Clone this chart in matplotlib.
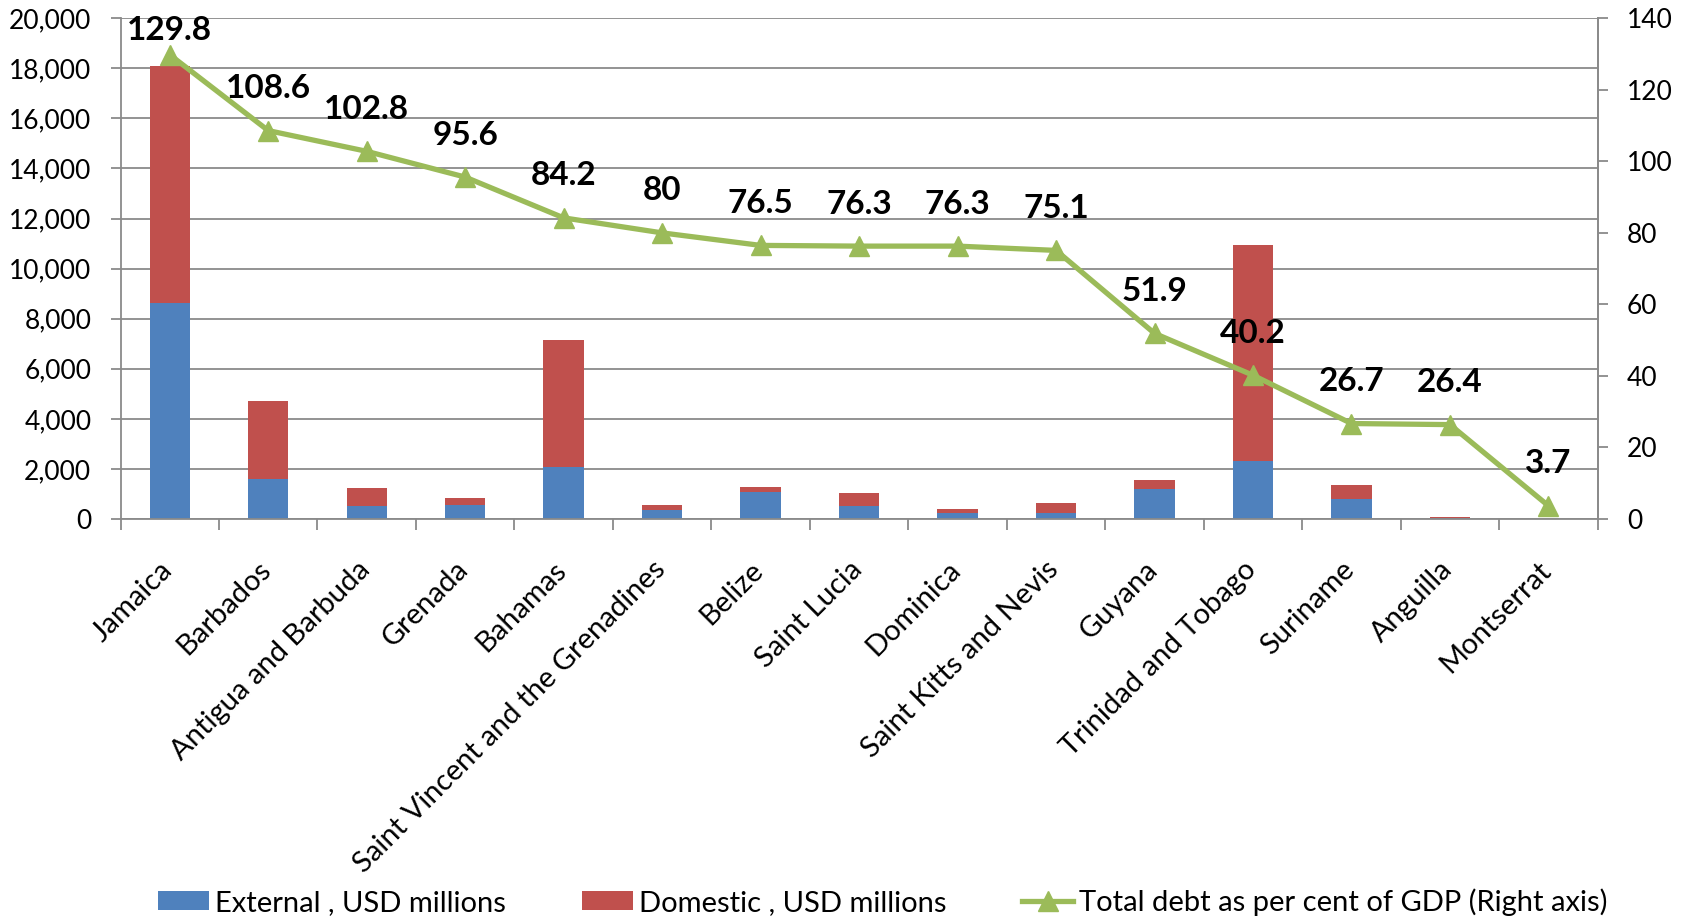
import matplotlib
matplotlib.use("Agg")
import matplotlib.pyplot as plt
import numpy as np
from matplotlib.ticker import FuncFormatter, FixedLocator, NullFormatter

plt.rcParams["font.family"] = ["Lato", "DejaVu Sans"]

countries = ["Jamaica", "Barbados", "Antigua and Barbuda", "Grenada", "Bahamas",
             "Saint Vincent and the Grenadines", "Belize", "Saint Lucia", "Dominica",
             "Saint Kitts and Nevis", "Guyana", "Trinidad and Tobago", "Suriname",
             "Anguilla", "Montserrat"]
# USD millions
external = [8630, 1610, 530, 570, 2090, 370, 1090, 510, 235, 235, 1200, 2330, 800, 25, 0]
domestic = [9470, 3100, 690, 270, 5070, 200, 190, 540, 150, 390, 360, 8620, 555, 45, 0]
# total debt, % of GDP
gdp_pct = [129.8, 108.6, 102.8, 95.6, 84.2, 80, 76.5, 76.3, 76.3, 75.1, 51.9, 40.2, 26.7, 26.4, 3.7]
gdp_lbl = ["129.8", "108.6", "102.8", "95.6", "84.2", "80", "76.5", "76.3", "76.3",
           "75.1", "51.9", "40.2", "26.7", "26.4", "3.7"]

BLUE = "#4F81BD"
RED = "#C0504D"
GREEN = "#9BBB59"
GRID = "#8A8A8A"

fig = plt.figure(figsize=(16.88, 9.18), dpi=100)
ax = fig.add_axes([0.0714, 0.4346, 0.8751, 0.5455])
x = np.arange(len(countries))

ax.bar(x, external, 0.41, color=BLUE, label="External , USD millions", zorder=2)
ax.bar(x, domestic, 0.41, bottom=external, color=RED, label="Domestic , USD millions", zorder=2)
ax.set_xlim(-0.5, len(countries) - 0.5)
ax.set_ylim(0, 20000)
ax.set_yticks(np.arange(0, 20001, 2000))
ax.yaxis.set_major_formatter(FuncFormatter(lambda v, p: f"{int(v):,}"))
ax.grid(axis="y", color=GRID, lw=1.3, zorder=0)
ax.set_axisbelow(True)

# category names drawn as rotated text under each bar; tick marks sit at boundaries
ax.set_xticks(x)
ax.set_xticklabels([])
ax.tick_params(axis="x", which="major", length=0)
for xi, name in zip(x, countries):
    ax.annotate(name, (xi, 0), xycoords=("data", "axes fraction"),
                xytext=(-7.5, -27), textcoords="offset points",
                rotation=45, ha="right", va="top", rotation_mode="anchor",
                fontsize=21, annotation_clip=False)
ax.xaxis.set_minor_locator(FixedLocator(np.arange(-0.5, len(countries), 1.0)))
ax.xaxis.set_minor_formatter(NullFormatter())
ax.tick_params(axis="x", which="minor", length=8, width=1.3, color=GRID)
ax.tick_params(axis="y", length=7, width=1.3, color=GRID, pad=14, labelsize=19)

for s in ("left", "bottom", "right"):
    ax.spines[s].set_color(GRID)
    ax.spines[s].set_linewidth(1.3)
ax.spines["top"].set_visible(False)

ax2 = ax.twinx()
ax2.plot(x, gdp_pct, color=GREEN, lw=3.8, marker="^", ms=15,
         label="Total debt as per cent of GDP (Right axis)", zorder=3)
ax2.set_ylim(0, 140)
ax2.set_yticks(np.arange(0, 141, 20))
ax2.tick_params(axis="y", length=7, width=1.3, color=GRID, pad=14, labelsize=19)
for s in ("left", "bottom", "top"):
    ax2.spines[s].set_visible(False)
ax2.spines["right"].set_color(GRID)
ax2.spines["right"].set_linewidth(1.3)

for xi, v, t in zip(x, gdp_pct, gdp_lbl):
    dy = 24 if v == max(gdp_pct) else 42
    ax2.annotate(t, (xi, v), xytext=(0, dy * 0.72), textcoords="offset points",
                 ha="center", va="center", fontsize=24, fontweight="bold")

h1, l1 = ax.get_legend_handles_labels()
h2, l2 = ax2.get_legend_handles_labels()
fig.legend(h1 + h2, l1 + l2, loc="lower center", bbox_to_anchor=(0.523, -0.026),
           ncol=3, frameon=False, fontsize=21, handlelength=1.75, handleheight=0.6,
           handletextpad=0.2, columnspacing=2.6)

fig.savefig("out.png", dpi=100)
